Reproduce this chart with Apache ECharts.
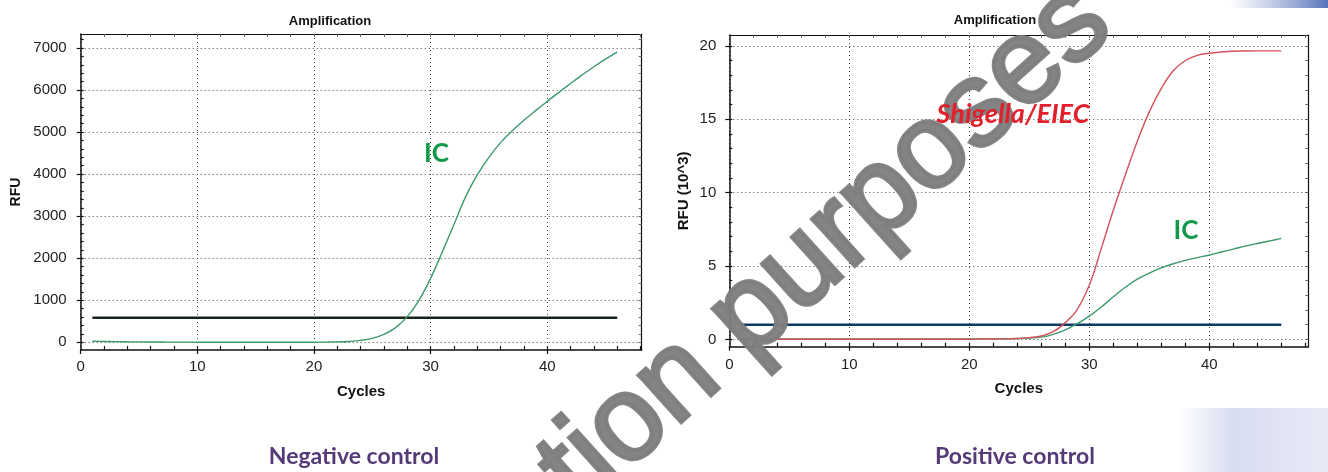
<!DOCTYPE html>
<html>
<head>
<meta charset="utf-8">
<script src="https://cdn.jsdelivr.net/npm/echarts@6/dist/echarts.min.js"></script>
<style>
html,body{margin:0;padding:0;background:#fff;}
#c{width:1328px;height:472px;}
</style>
</head>
<body>
<div id="c"></div>
<script>
// ---------------- data ----------------
const cycles = [1,2,3,4,5,6,7,8,9,10,11,12,13,14,15,16,17,18,19,20,21,22,23,24,25,26,27,28,29,30,31,32,33,34,35,36,37,38,39,40,41,42,43,44,45,46];
// Negative control: internal control (RFU)
const negIC = [25,20,16,12,10,8,6,5,4,3,2,2,1,1,0,0,0,0,0,2,5,10,20,45,95,190,350,610,1000,1520,2150,2800,3460,3980,4400,4750,5030,5280,5510,5730,5945,6155,6360,6555,6735,6900];
const negThreshold = 585;
// Positive control (RFU x 10^3)
const posTarget = [0.02,0.02,0.02,0.01,0.01,0.01,0.01,0.01,0.01,0.01,0.01,0.01,0.01,0.01,0.01,0.01,0.01,0.01,0.01,0.01,0.02,0.02,0.03,0.06,0.12,0.23,0.52,1.14,2.05,3.7,6.2,8.8,11.2,13.5,15.5,17.1,18.3,19.0,19.35,19.5,19.58,19.63,19.65,19.66,19.66,19.66];
const posIC = [0.04,0.04,0.03,0.03,0.03,0.03,0.03,0.02,0.02,0.02,0.02,0.02,0.02,0.02,0.02,0.02,0.02,0.02,0.02,0.02,0.03,0.03,0.04,0.06,0.09,0.15,0.34,0.65,1.07,1.58,2.2,2.9,3.55,4.1,4.52,4.87,5.15,5.38,5.57,5.75,5.95,6.15,6.35,6.53,6.7,6.88];
const posThreshold = 1.0;
// tick labels
const xTicks = [0,10,20,30,40];
const xMinorTicks = [2,4,6,8,10,12,14,16,18,20,22,24,26,28,30,32,34,36,38,40,42,44,46,48];
const negYTicks = [0,1000,2000,3000,4000,5000,6000,7000];
const negYMinor = [0,200,400,600,800,1000,1200,1400,1600,1800,2000,2200,2400,2600,2800,3000,3200,3400,3600,3800,4000,4200,4400,4600,4800,5000,5200,5400,5600,5800,6000,6200,6400,6600,6800,7000,7200];
const posYTicks = [0,5,10,15,20];
const posYMinor = [0,1,2,3,4,5,6,7,8,9,10,11,12,13,14,15,16,17,18,19,20];

const pair = (xs, ys) => xs.map((x, i) => [x, ys[i]]);
const flat = (v) => [[cycles[0], v], [cycles[cycles.length - 1], v]];

// ---------------- layout ----------------
const grids = [
  {left: 80.7, top: 34, width: 561, height: 316, xmax: 48.1, ymin: -183, ymax: 7333},
  {left: 729.3, top: 35, width: 579, height: 311.7, xmax: 48.25, ymin: -0.5, ymax: 20.74}
];
const FONT = 'Liberation Sans, Arial, sans-serif';
const dotted = {show: true, lineStyle: {type: [1, 3], color: '#444', width: 1}};
const plain = (v) => String(v);

const xAxis = [], yAxis = [];
function addAxes(g, yTicks, yMinor, yName, yNameGap, xNameGap, xLabelMargin, yLabelMargin, yNameSize) {
  const G = grids[g];
  const base = {type: 'value', gridIndex: g, min: 0, max: G.xmax};
  xAxis.push(Object.assign({}, base, {
    position: 'bottom',
    axisLine: {show: true, onZero: false, lineStyle: {color: '#111', width: 1.5}},
    axisTick: {show: true, inside: false, length: 4, customValues: xTicks, lineStyle: {color: '#111', width: 1.2}},
    axisLabel: {show: true, customValues: xTicks, formatter: plain, margin: xLabelMargin, fontSize: 15, color: '#222', fontFamily: FONT},
    splitLine: dotted,
    name: 'Cycles', nameLocation: 'middle', nameGap: xNameGap,
    nameTextStyle: {fontSize: 15, fontWeight: 'bold', color: '#111', fontFamily: FONT}
  }));
  xAxis.push(Object.assign({}, base, {
    position: 'bottom',
    axisLine: {show: false, onZero: false},
    axisTick: {show: true, inside: true, length: 4, customValues: xMinorTicks, lineStyle: {color: '#111', width: 1.2}},
    axisLabel: {show: false}, splitLine: {show: false}
  }));
  xAxis.push(Object.assign({}, base, {
    position: 'top',
    axisLine: {show: true, onZero: false, lineStyle: {color: '#111', width: 1.2}},
    axisTick: {show: true, inside: true, length: 3, customValues: xMinorTicks, lineStyle: {color: '#666', width: 1}},
    axisLabel: {show: false}, splitLine: {show: false}
  }));
  const ybase = {type: 'value', gridIndex: g, min: G.ymin, max: G.ymax};
  yAxis.push(Object.assign({}, ybase, {
    position: 'left',
    axisLine: {show: true, onZero: false, lineStyle: {color: '#111', width: 1.5}},
    axisTick: {show: true, inside: false, length: 4, customValues: yTicks, lineStyle: {color: '#111', width: 1.2}},
    axisLabel: {show: true, customValues: yTicks, formatter: plain, margin: yLabelMargin, fontSize: 15, color: '#222', fontFamily: FONT},
    splitLine: dotted,
    name: yName, nameLocation: 'middle', nameGap: yNameGap,
    nameTextStyle: {fontSize: yNameSize, fontWeight: 'bold', color: '#111', fontFamily: FONT}
  }));
  yAxis.push(Object.assign({}, ybase, {
    position: 'left',
    axisLine: {show: false, onZero: false},
    axisTick: {show: true, inside: true, length: 3, customValues: yMinor, lineStyle: {color: '#111', width: 1.2}},
    axisLabel: {show: false}, splitLine: {show: false}
  }));
  yAxis.push(Object.assign({}, ybase, {
    position: 'right',
    axisLine: {show: true, onZero: false, lineStyle: {color: '#111', width: 1.2}},
    axisTick: {show: true, inside: true, length: 3, customValues: yMinor, lineStyle: {color: '#666', width: 1}},
    axisLabel: {show: false}, splitLine: {show: false}
  }));
}
addAxes(0, negYTicks, negYMinor, 'RFU', 58, 34, 9.5, 14, 14);
addAxes(1, posYTicks, posYMinor, 'RFU (10^3)', 38, 35, 11, 13, 15);

function line(data, color, width, xi, yi, smooth, z) {
  return {type: 'line', data: data, xAxisIndex: xi, yAxisIndex: yi, showSymbol: false, symbol: 'none',
    smooth: smooth, lineStyle: {color: color, width: width}, z: z, silent: true, animation: false};
}

const series = [
  line(flat(negThreshold), '#16251a', 2.6, 0, 0, false, 3),
  line(pair(cycles, negIC), '#3d9a6c', 1.4, 0, 0, 0.4, 4),
  line(flat(posThreshold), '#0f3a66', 2.4, 3, 3, false, 3),
  line(pair(cycles, posIC), '#3d9a6c', 1.4, 3, 3, 0.4, 4),
  line(pair(cycles, posTarget), '#d2525c', 1.4, 3, 3, 0.4, 5)
];

const txt = (x, y, text, font, color, z) => ({
  type: 'text', x: x, y: y, z: z || 50,
  style: {text: text, font: font, fill: color, textAlign: 'center', textVerticalAlign: 'middle'}
});
const WM_COLOR = 'rgba(125,125,125,0.95)';

const graphic = [
  txt(330, 21, 'Amplification', 'bold 13px ' + FONT, '#111', 120),
  txt(995, 20, 'Amplification', 'bold 13px ' + FONT, '#111', 120),
  txt(436.5, 154, 'IC', 'bold 26px Lato, sans-serif', '#12994a', 50),
  txt(1186, 231, 'IC', 'bold 26px Lato, sans-serif', '#12994a', 50),
  txt(1013, 114, 'Shigella/EIEC', 'italic bold 27px Lato, sans-serif', '#e21f2b', 120),
  txt(354, 457, 'Negative control', 'bold 23px Lato, sans-serif', '#553a78', 50),
  txt(1015, 457, 'Positive control', 'bold 23px Lato, sans-serif', '#553a78', 50),
  // decorative corner bands
  {type: 'rect', z: 1, shape: {x: 1230, y: 0, width: 98, height: 8},
    style: {fill: new echarts.graphic.LinearGradient(0, 0, 1, 0, [
      {offset: 0, color: 'rgba(120,140,200,0)'}, {offset: 1, color: 'rgba(70,100,180,0.9)'}])}},
  {type: 'rect', z: 1, shape: {x: 1180, y: 408, width: 148, height: 64},
    style: {fill: new echarts.graphic.LinearGradient(0, 0, 1, 0, [
      {offset: 0, color: 'rgba(200,206,235,0)'}, {offset: 0.35, color: 'rgba(200,206,235,0.7)'}, {offset: 1, color: 'rgba(215,220,240,0.6)'}])}},
  // watermark
  {type: 'text', x: 1094, y: 6, rotation: 0.733, z: 100,
    style: {text: 'For illustration purposes', font: '120px Liberation Sans, Arial, sans-serif',
      fill: WM_COLOR, stroke: WM_COLOR, lineWidth: 4, textAlign: 'right', textVerticalAlign: 'middle'}}
];

const chart = echarts.init(document.getElementById('c'), null, {renderer: 'canvas'});
chart.setOption({
  animation: false,
  backgroundColor: '#fff',
  grid: grids.map(G => ({left: G.left, top: G.top, width: G.width, height: G.height, containLabel: false})),
  xAxis: xAxis,
  yAxis: yAxis,
  series: series,
  graphic: graphic
});
</script>
</body>
</html>
